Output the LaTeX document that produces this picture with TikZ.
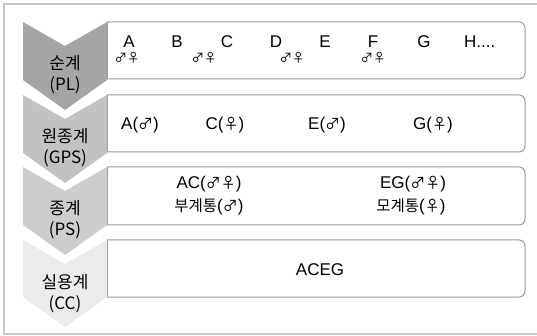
\documentclass[tikz,border=0pt]{standalone}
\usepackage{fontspec}
\setmainfont{Liberation Sans}
\newfontfamily\kr{Noto Sans CJK KR}
\definecolor{chA}{HTML}{A5A5A5}
\definecolor{chB}{HTML}{C2C2C2}
\definecolor{chC}{HTML}{CDCDCD}
\definecolor{chD}{HTML}{EBEBEB}
\definecolor{boxgray}{HTML}{9A9A9A}
\definecolor{framegray}{HTML}{C8C8C8}
\newcommand\symsm[1]{{\kr\fontsize{12.5}{13}\selectfont #1}}
\newcommand\symmd[1]{{\kr\fontsize{15}{15}\selectfont #1}}
\begin{document}
\begin{tikzpicture}[x=1pt,y=-1pt,
  lbl/.style={font=\kr\fontsize{17}{21}\selectfont, align=center, inner sep=0pt},
  txt/.style={font=\fontsize{17}{20}\selectfont, inner sep=0pt},
  sym/.style={inner sep=0pt},
  boxline/.style={draw=boxgray, line width=1pt, rounded corners=6pt}]
\useasboundingbox (0,0) rectangle (537,336);
\draw[framegray, line width=1.5pt] (4,4) rectangle (540,334);
% boxes
\begin{scope}
\clip (107,0) rectangle (540,336);
\foreach \t/\b in {22/79,95/152,167/225,240/297}{
  \draw[boxline] (95,\t) rectangle (525,\b);
}
\end{scope}
\foreach \t/\b in {22/79,95/152,167/225,240/297}{
  \draw[boxgray, line width=1pt] (107,\t) -- (107,\b);
}
% chevrons
\foreach \t/\b/\c in {22/80/chA,95/153/chB,167/225/chC,240/297/chD}{
  \fill[\c] (23,\t) -- (65,{\t+24}) -- (107,\t) -- (107,\b) -- (65,{\b+30}) -- (23,\b) -- cycle;
}
% labels
\node[lbl] (l1) at (65,75) {순계\\(PL)};
\node[lbl] (l2) at (65,148) {원종계\\(GPS)};
\node[lbl] (l3) at (65,220) {종계\\(PS)};
\node[lbl] (l4) at (65,294) {실용계\\(CC)};
% row 1
\node[txt] (a) at (129,42) {A};
\node[txt] (b) at (177,42) {B};
\node[txt] (c) at (227,42) {C};
\node[txt] (d) at (276,42) {D};
\node[txt] (e) at (325,42) {E};
\node[txt] (f) at (373,42) {F};
\node[txt] (g) at (424,42) {G};
\node[txt, anchor=west] (h) at (464,42) {H....};
\node[sym] (s1) at (127,58) {\symsm{♂♀}};
\node[sym] (s2) at (204,58) {\symsm{♂♀}};
\node[sym] (s3) at (292,58) {\symsm{♂♀}};
\node[sym] (s4) at (373,58) {\symsm{♂♀}};
% row 2
\node[txt] (r2a) at (140,125) {A(\symmd{♂})};
\node[txt] (r2c) at (225,125) {C(\symmd{♀})};
\node[txt] (r2e) at (327,125) {E(\symmd{♂})};
\node[txt] (r2g) at (433,125) {G(\symmd{♀})};
% row 3
\node[txt] (r3a) at (209,184) {AC(\symmd{♂♀})};
\node[txt] (r3b) at (209,207) {{\kr\fontsize{15.5}{18}\selectfont 부계통}(\symmd{♂})};
\node[txt] (r3c) at (413,184) {EG(\symmd{♂♀})};
\node[txt] (r3d) at (411,207) {{\kr\fontsize{15.5}{18}\selectfont 모계통}(\symmd{♀})};
% row 4
\node[txt] (r4) at (320,270) {ACEG};
\end{tikzpicture}
\end{document}
